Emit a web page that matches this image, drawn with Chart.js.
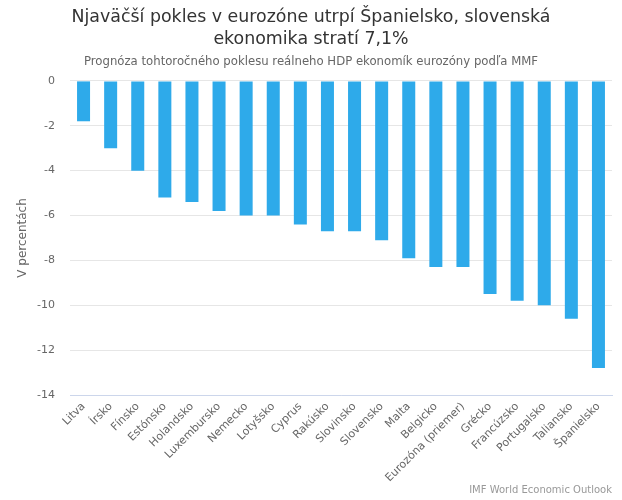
<!DOCTYPE html>
<html><head><meta charset="utf-8">
<script src="https://cdn.jsdelivr.net/npm/chart.js@4/dist/chart.umd.min.js"></script>
<style>
html,body{margin:0;padding:0;background:#fff;}
#wrap{position:relative;width:622px;height:500px;}
#credits{position:absolute;right:10px;bottom:5px;font:10px "DejaVu Sans",sans-serif;color:#999;}
</style></head>
<body><div id="wrap"><canvas id="c" width="622" height="500"></canvas><div id="credits">IMF World Economic Outlook</div></div>
<script>
const categories = ["Litva","Írsko","Fínsko","Estónsko","Holandsko","Luxembursko","Nemecko","Lotyšsko","Cyprus","Rakúsko","Slovinsko","Slovensko","Malta","Belgicko","Eurozóna (priemer)","Grécko","Francúzsko","Portugalsko","Taliansko","Španielsko"];
const values = [-1.8,-3.0,-4.0,-5.2,-5.4,-5.8,-6.0,-6.0,-6.4,-6.7,-6.7,-7.1,-7.9,-8.3,-8.3,-9.5,-9.8,-10.0,-10.6,-12.8];
const titleLines = ["Njaväčší pokles v eurozóne utrpí Španielsko, slovenská","ekonomika stratí 7,1%"];
const subtitleText = "Prognóza tohtoročného poklesu reálneho HDP ekonomík eurozóny podľa MMF";
const yAxisTitle = "V percentách";

const FONT = "'DejaVu Sans', sans-serif";
new Chart(document.getElementById('c'), {
  type: 'bar',
  data: { labels: categories, datasets: [{ data: values, backgroundColor: '#2eaaea', borderWidth: 0, barPercentage: 0.48, categoryPercentage: 1.0 }] },
  options: {
    responsive: false, animation: false,
    layout: { padding: { left: 10, right: 10, top: 0, bottom: 0 } },
    plugins: {
      legend: { display: false }, tooltip: { enabled: false },
      title: { display: true, text: titleLines, color: '#333', font: { family: FONT, size: 17.4, weight: 'normal', lineHeight: 1.26 }, padding: { top: 7, bottom: 4 } },
      subtitle: { display: true, text: subtitleText, color: '#666', font: { family: FONT, size: 11.7, weight: 'normal', lineHeight: 1.2 }, padding: { top: 0, bottom: 12 } }
    },
    scales: {
      x: {
        grid: { display: false, drawTicks: false },
        border: { display: true, color: '#ccd6eb' },
        ticks: { color: '#666', font: { family: FONT, size: 11 }, minRotation: 45, maxRotation: 45, padding: 5, autoSkip: false },
        afterFit: s => { s.height = 105; }
      },
      y: {
        min: -14, max: 0,
        grid: { color: '#e6e6e6', drawTicks: false },
        border: { display: false },
        ticks: { stepSize: 2, color: '#666', font: { family: FONT, size: 11 }, padding: 15 },
        title: { display: true, text: yAxisTitle, color: '#666', font: { family: FONT, size: 12 }, padding: { top: 6 } },
        afterFit: s => { s.width = 60; }
      }
    }
  }
});
</script></body></html>
